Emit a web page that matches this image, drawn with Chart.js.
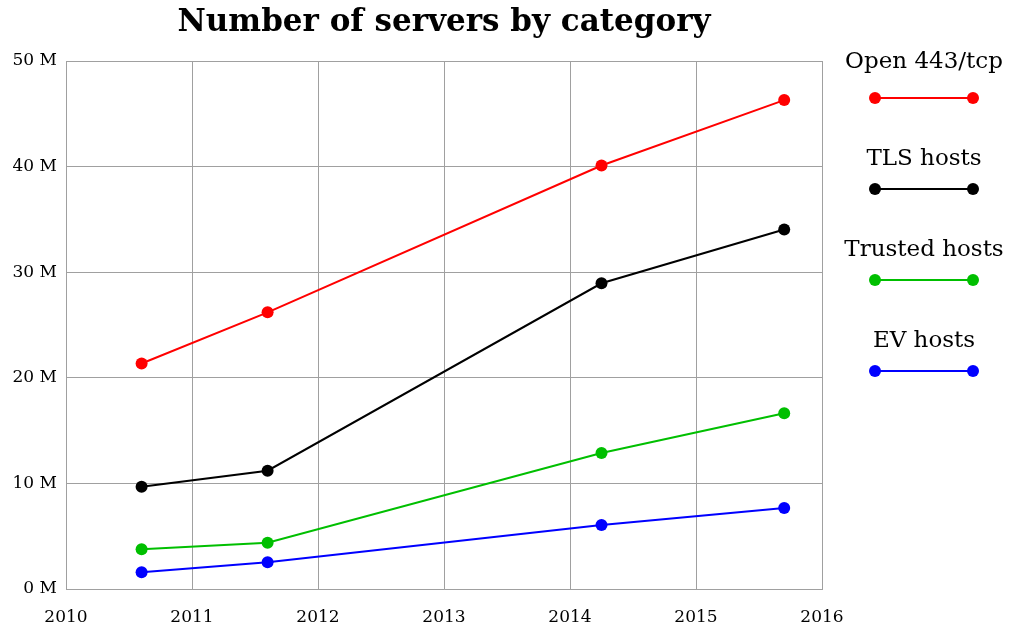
<!DOCTYPE html>
<html>
<head>
<meta charset="utf-8">
<script src="https://cdn.jsdelivr.net/npm/chart.js@4/dist/chart.umd.min.js"></script>
<style>
  html, body { margin: 0; padding: 0; background: #fff; }
  #wrap { width: 1011px; height: 634px; position: relative; }
</style>
</head>
<body>
<div id="wrap"><canvas id="c"></canvas></div>
<script>
const TITLE = "Number of servers by category";
const YEARS = [2010.6, 2011.6, 2014.25, 2015.7];
const SERIES_LABELS = ["Open 443/tcp", "TLS hosts", "Trusted hosts", "EV hosts"];
const SERIES_COLORS = ["#ff0000", "#000000", "#00bf00", "#0000ff"];
const OPEN_443 = [21.35, 26.2, 40.1, 46.3];
const TLS_HOSTS = [9.68, 11.2, 28.95, 34.05];
const TRUSTED_HOSTS = [3.76, 4.38, 12.87, 16.65];
const EV_HOSTS = [1.58, 2.53, 6.05, 7.66];
const X_TICKS = [2010, 2011, 2012, 2013, 2014, 2015, 2016];
const Y_TICKS = [0, 10, 20, 30, 40, 50];

const SERIF = "'DejaVu Serif', 'Liberation Serif', serif";
const GRID = "#a0a0a0";

const values = [OPEN_443, TLS_HOSTS, TRUSTED_HOSTS, EV_HOSTS];

const datasets = values.map((vals, i) => ({
  label: SERIES_LABELS[i],
  data: YEARS.map((x, j) => ({ x, y: vals[j] * 1e6 })),
  borderColor: SERIES_COLORS[i],
  backgroundColor: SERIES_COLORS[i],
  borderWidth: 2,
  pointRadius: 6,
  pointBorderWidth: 0,
  pointHoverRadius: 6,
  tension: 0,
}));

// title centred over the plot, legend drawn as stacked entries at the right
const sideLegend = {
  id: "sideLegend",
  afterDraw(chart) {
    const ctx = chart.ctx;
    const area = chart.chartArea;
    ctx.save();
    ctx.fillStyle = "#000";
    ctx.textAlign = "center";
    ctx.textBaseline = "middle";
    ctx.font = "bold 31px " + SERIF;
    ctx.fillText(TITLE, (area.left + area.right) / 2, 23);

    const cx = 924, x0 = 875, x1 = 973;
    ctx.textBaseline = "alphabetic";
    chart.data.datasets.forEach((ds, i) => {
      const ly = 98 + i * 91;
      ctx.fillStyle = "#000";
      ctx.font = "23px " + SERIF;
      ctx.fillText(ds.label, cx, ly - (i === 0 ? 30 : 24));
      ctx.strokeStyle = ds.borderColor;
      ctx.lineWidth = 2;
      ctx.beginPath();
      ctx.moveTo(x0, ly);
      ctx.lineTo(x1, ly);
      ctx.stroke();
      ctx.fillStyle = ds.borderColor;
      [x0, x1].forEach(px => {
        ctx.beginPath();
        ctx.arc(px, ly, 6, 0, Math.PI * 2);
        ctx.fill();
      });
    });
    ctx.restore();
  },
};

new Chart(document.getElementById("c"), {
  type: "line",
  data: { datasets },
  plugins: [sideLegend],
  options: {
    responsive: true,
    maintainAspectRatio: false,
    animation: false,
    events: [],
    layout: { padding: { left: 0, right: 189, top: 61, bottom: 0 } },
    plugins: {
      legend: { display: false },
      title: { display: false },
      tooltip: { enabled: false },
    },
    scales: {
      x: {
        type: "linear",
        min: X_TICKS[0],
        max: X_TICKS[X_TICKS.length - 1],
        afterBuildTicks(scale) { scale.ticks = X_TICKS.map(v => ({ value: v })); },
        afterFit(scale) { scale.height = 45; },
        ticks: {
          color: "#000",
          padding: 18,
          maxRotation: 0,
          font: { family: SERIF, size: 17 },
          callback: v => String(v),
        },
        grid: { color: GRID, lineWidth: 1, drawTicks: false },
        border: { color: GRID, width: 1 },
      },
      y: {
        min: 0,
        max: 50e6,
        afterBuildTicks(scale) { scale.ticks = Y_TICKS.map(v => ({ value: v * 1e6 })); },
        afterFit(scale) { scale.width = 66; },
        ticks: {
          color: "#000",
          padding: 9,
          font: { family: SERIF, size: 17 },
          callback: v => (v / 1e6) + " M",
        },
        grid: { color: GRID, lineWidth: 1, drawTicks: false },
        border: { color: GRID, width: 1 },
      },
    },
  },
});
</script>
</body>
</html>
